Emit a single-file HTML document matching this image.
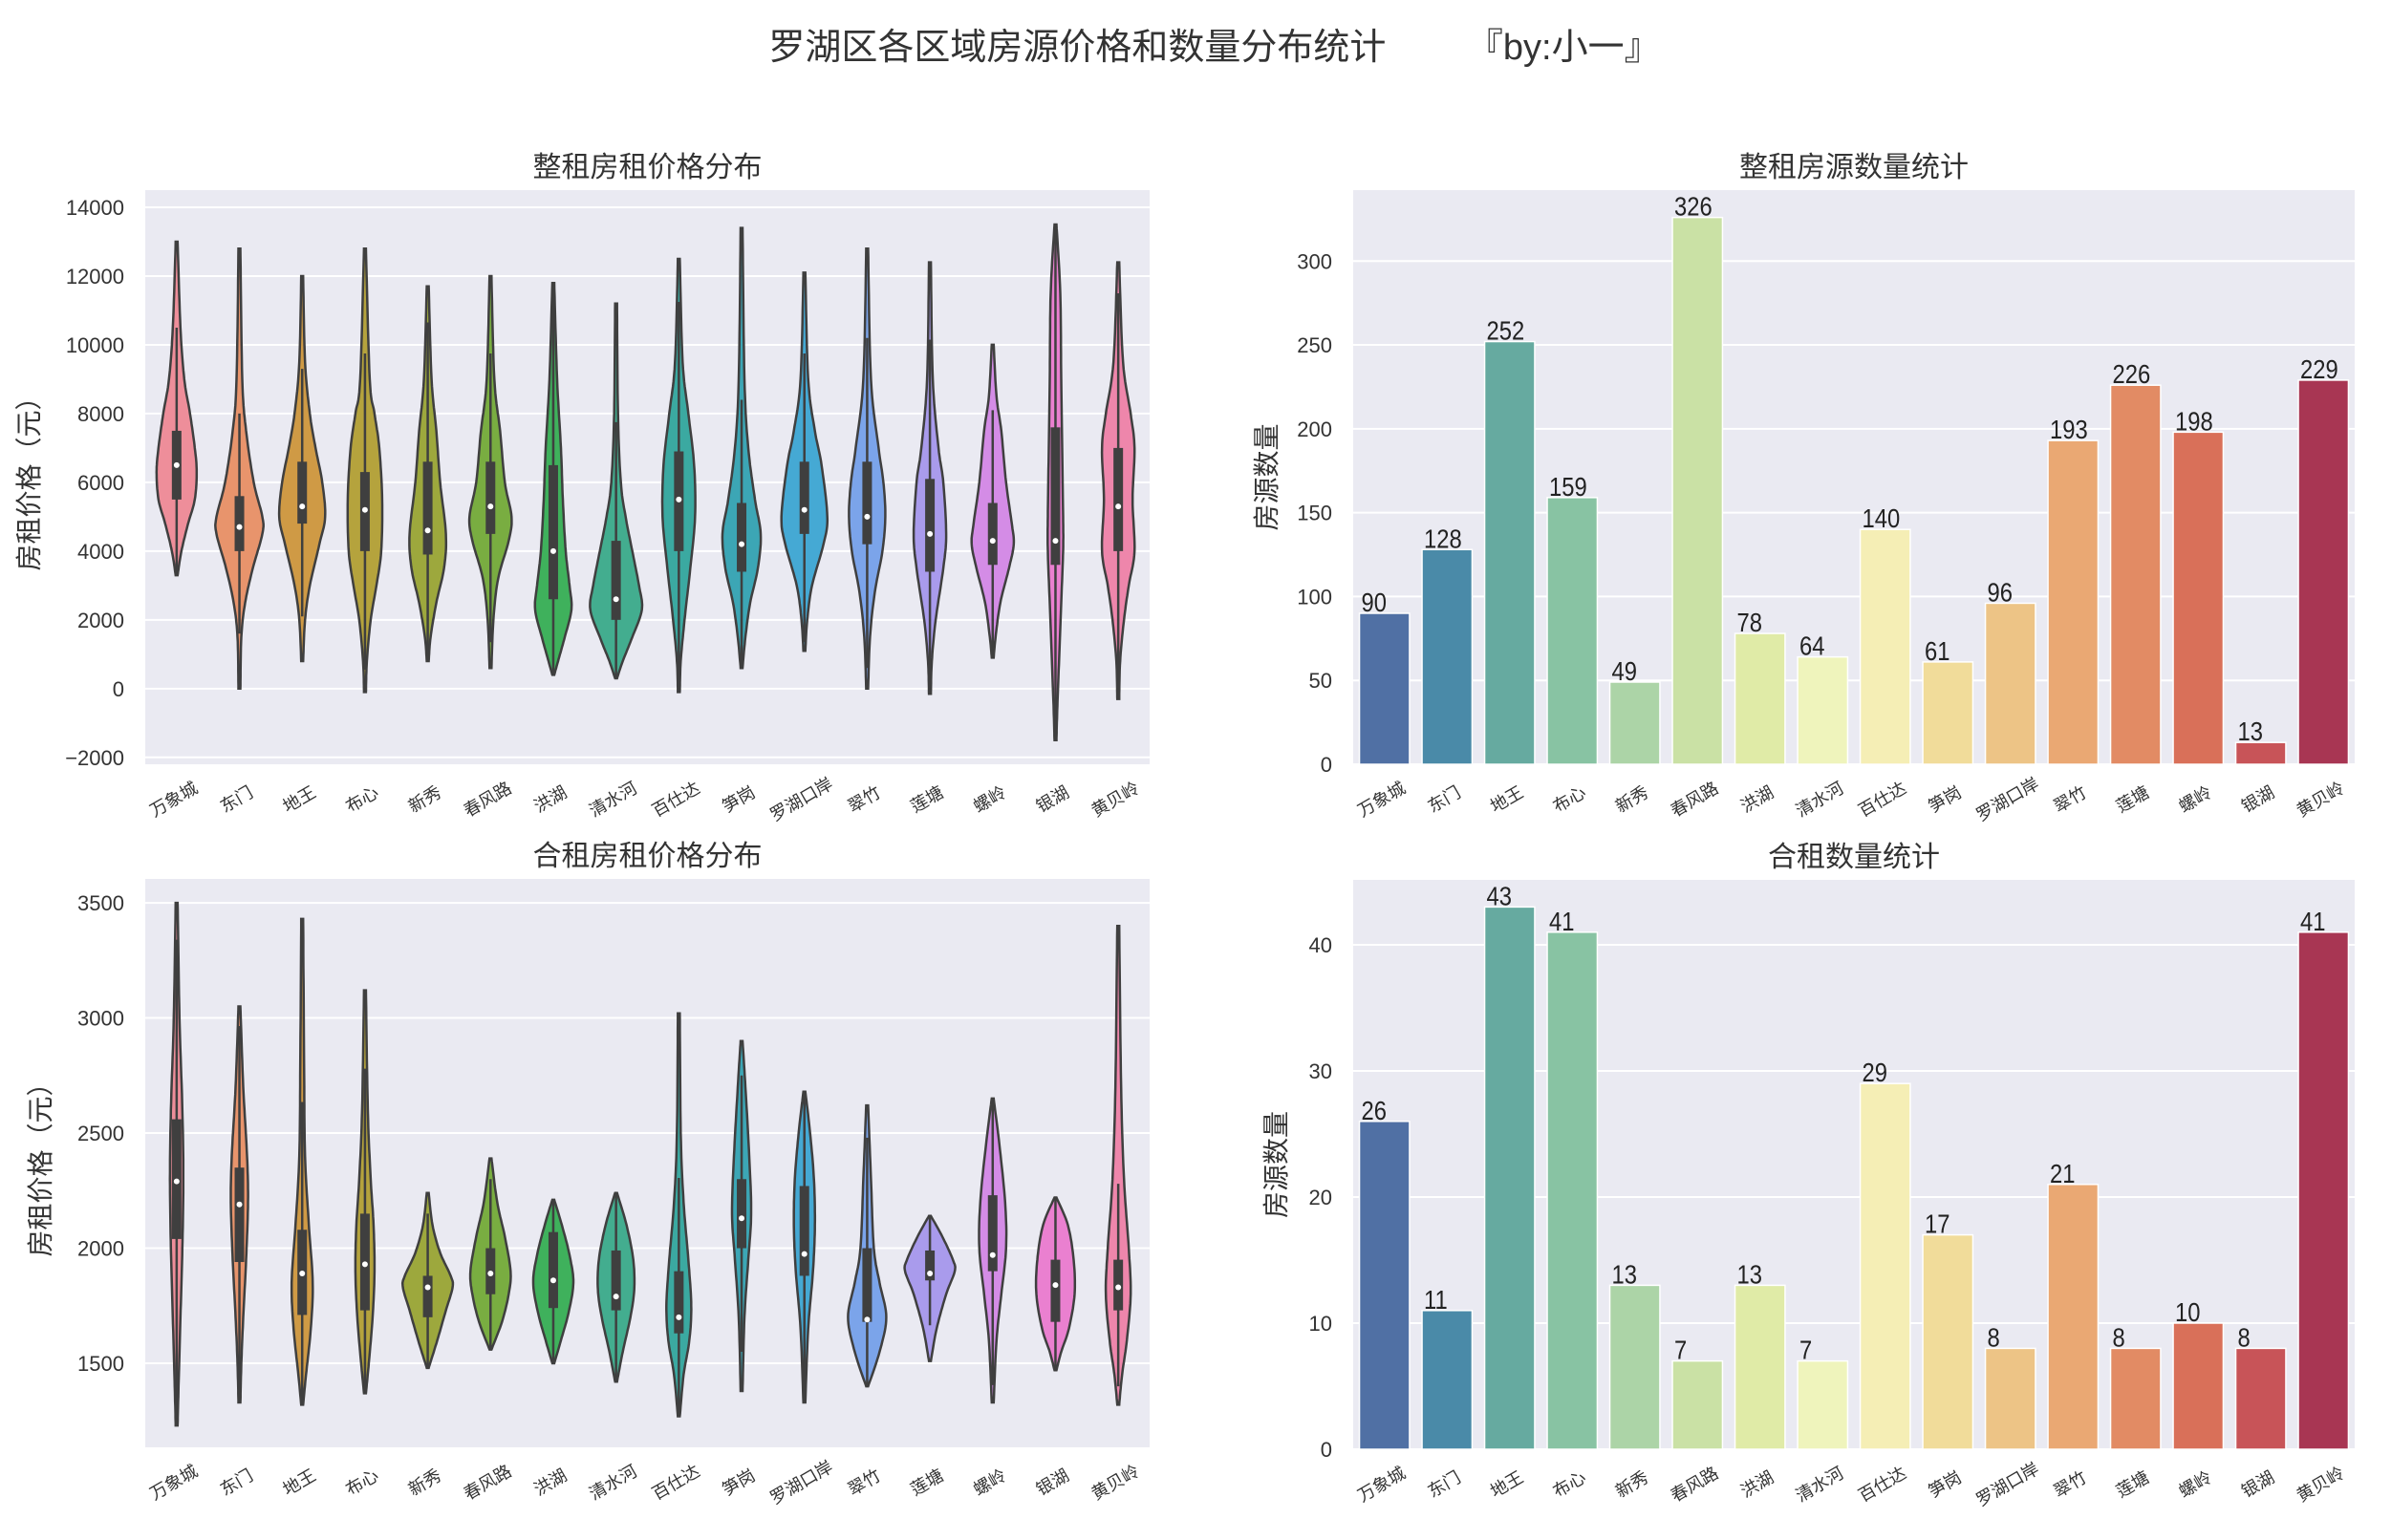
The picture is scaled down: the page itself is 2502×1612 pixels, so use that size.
<!DOCTYPE html>
<html><head><meta charset="utf-8"><style>
html,body{margin:0;padding:0;background:#fff;}
svg{display:block;font-family:"Liberation Sans","Noto Sans CJK SC","WenQuanYi Zen Hei",sans-serif;}
</style></head><body>
<svg id="s" width="2502" height="1612" viewBox="0 0 2502 1612" xmlns="http://www.w3.org/2000/svg">
<text x="1271" y="62" font-size="38" text-anchor="middle" fill="#333">罗湖区各区域房源价格和数量分布统计&#160;&#160;&#160;&#160;&#160;&#160;&#160;&#160;『by:小一』</text>
</svg>
<script>
const S=document.getElementById('s');const NS='http://www.w3.org/2000/svg';
function el(t,a,txt){const e=document.createElementNS(NS,t);for(const k in a)e.setAttribute(k,a[k]);if(txt!==undefined)e.textContent=txt;S.appendChild(e);return e;}
const cats=['万象城','东门','地王','布心','新秀','春风路','洪湖','清水河','百仕达','笋岗','罗湖口岸','翠竹','莲塘','螺岭','银湖','黄贝岭'];
function axes(L,R,T,B,vmin,vmax,ticks,title,ylabel,ylx){
  el('rect',{x:L,y:T,width:R-L,height:B-T,fill:'#eaeaf2'});
  const f=v=>B-(v-vmin)/(vmax-vmin)*(B-T);
  ticks.forEach(v=>{const y=f(v);el('line',{x1:L,x2:R,y1:y,y2:y,stroke:'#fff','stroke-width':2});
    el('text',{x:L-22,y:y+8,'font-size':22,'text-anchor':'end',fill:'#333'},String(v).replace('-','−'));});
  el('text',{x:(L+R)/2,y:T-14,'font-size':30,'text-anchor':'middle',fill:'#333'},title);
  el('text',{x:ylx,y:(T+B)/2,'font-size':28,'text-anchor':'middle',fill:'#333',transform:`rotate(-90 ${ylx} ${(T+B)/2})`},ylabel);
  const w=(R-L)/16;
  cats.forEach((c,i)=>{const x=L+w*(i+.5),y=B+42;
    el('text',{x:x,y:y,'font-size':18,'text-anchor':'middle',fill:'#333',transform:`rotate(-30 ${x} ${y})`},c);});
  return f;
}
const vcol=['#ee8e9a','#e8946c','#cf9a45','#b5a33d','#9da83d','#79ad41','#3fb15c','#43ad8f','#3ba9a1','#3ca6b5','#45a9d4','#7ba4ea','#a99bec','#d48ce6','#ea80d0','#ee86ab'];
function violin(f,cx,pts){
  const n=pts.length;const P=[];
  for(let i=0;i<n-1;i++){const p0=pts[Math.max(0,i-1)],p1=pts[i],p2=pts[i+1],p3=pts[Math.min(n-1,i+2)];
    for(let t=0;t<1;t+=0.1){const t2=t*t,t3=t2*t;
      const cr=(a,b,c,d)=>0.5*(2*b+(-a+c)*t+(2*a-5*b+4*c-d)*t2+(-a+3*b-3*c+d)*t3);
      P.push([cr(p0[0],p1[0],p2[0],p3[0]),Math.max(0.5,cr(p0[1],p1[1],p2[1],p3[1]))]);}}
  P.push(pts[n-1]);
  let d='M'+P.map(p=>(cx+p[1]).toFixed(1)+','+f(p[0]).toFixed(1)).join('L');
  d+='L'+P.slice().reverse().map(p=>(cx-p[1]).toFixed(1)+','+f(p[0]).toFixed(1)).join('L')+'Z';
  return d;
}
function drawViolins(f,L,R,data){
  const w=(R-L)/16;
  data.forEach((v,i)=>{const cx=L+w*(i+.5);const [pts,q1,q3,med]=v;
    el('path',{d:violin(f,cx,pts),fill:vcol[i],stroke:'#3f3f3f','stroke-width':2.5});
    const iq=q3-q1;const lo=Math.max(pts[pts.length-1][0],q1-1.5*iq),hi=Math.min(pts[0][0],q3+1.5*iq);
    el('line',{x1:cx,x2:cx,y1:f(lo),y2:f(hi),stroke:'#3f3f3f','stroke-width':2.5});
    el('rect',{x:cx-5,y:f(q3),width:10,height:f(q1)-f(q3),fill:'#3f3f3f'});
    el('circle',{cx:cx,cy:f(med),r:3,fill:'#fff'});
  });
}
let f1=axes(152,1203,199,800,-2200,14500,[-2000,0,2000,4000,6000,8000,10000,12000,14000],'整租房租价格分布','房租价格（元）',40);
drawViolins(f1,152,1203,[
[[[13000,1],[10500,4],[9000,8],[8000,14],[7000,19],[6300,21],[5500,19],[4800,12],[4000,5],[3300,1]],5500,7500,6500],
[[[12800,1],[9000,3],[7500,7],[6000,15],[5000,24],[4500,24],[3500,14],[2500,6],[1500,2],[0,1]],4000,5600,4700],
[[[12000,1],[9500,3],[8000,8],[7000,14],[6000,21],[5000,24],[4200,18],[3000,8],[2000,3],[800,1]],4800,6600,5300],
[[[12800,1],[9000,5],[8000,10],[7000,15],[5500,18],[4000,17],[3000,12],[2000,6],[800,2],[-100,1]],4000,6300,5200],
[[[11700,1],[9000,4],[7500,9],[6000,13],[4500,19],[3500,17],[2500,9],[1500,3],[800,1]],3900,6600,4600],
[[[12000,1],[9000,4],[7500,10],[6000,15],[5000,22],[4300,19],[3200,8],[2000,3],[600,1]],4500,6600,5300],
[[[11800,1],[9000,4],[7000,8],[5500,10],[4000,13],[3000,17],[2300,19],[1500,12],[800,5],[400,1]],2600,6500,4000],
[[[11200,1],[8000,2],[6000,5],[5000,10],[4000,17],[3000,24],[2300,27],[1500,17],[800,7],[300,1]],2000,4300,2600],
[[[12500,1],[9500,4],[8000,10],[6500,16],[5000,17],[3500,12],[2000,6],[800,2],[-100,1]],4000,6900,5500],
[[[13400,1],[9000,3],[7000,7],[5500,14],[4500,20],[3500,17],[2500,9],[1500,4],[600,1]],3400,5400,4200],
[[[12100,1],[9000,4],[7500,11],[6500,18],[5000,24],[4200,20],[3000,8],[2000,3],[1100,1]],4500,6600,5200],
[[[12800,1],[9000,4],[7000,12],[6000,17],[5000,19],[4000,16],[2800,8],[1500,3],[0,1]],4200,6600,5000],
[[[12400,1],[9000,3],[7000,9],[6000,14],[4500,17],[3500,14],[2000,6],[800,2],[-150,1]],3400,6100,4500],
[[[10000,1],[8500,4],[7500,9],[6000,14],[4800,20],[4200,22],[3500,17],[2500,8],[1500,3],[900,1]],3600,5400,4300],
[[[13500,1],[11500,5],[9000,6],[7000,7],[5000,8],[4000,8],[2500,6],[1000,4],[-500,2],[-1500,1]],3600,7600,4300],
[[[12400,1],[9500,5],[8000,13],[7000,17],[5500,15],[4000,17],[3000,11],[2000,6],[800,2],[-300,1]],4000,7000,5300]
]);
let f2=axes(152,1203,920,1515,1135,3604,[1500,2000,2500,3000,3500],'合租房租价格分布','房租价格（元）',52);
drawViolins(f2,152,1203,[
[[[3500,1],[3000,3],[2600,6],[2300,7],[2000,6],[1700,4],[1400,2],[1230,1]],2040,2560,2290],
[[[3050,1],[2700,4],[2400,8],[2200,9],[1950,7],[1700,4],[1500,2],[1330,1]],1940,2350,2190],
[[[3430,1],[2800,2],[2400,3],[2100,7],[1850,11],[1650,9],[1450,4],[1320,1]],1710,2080,1890],
[[[3120,1],[2600,3],[2300,6],[2100,9],[1900,10],[1700,8],[1500,4],[1370,1]],1730,2150,1930],
[[[2240,1],[2100,5],[1980,13],[1880,24],[1830,26],[1730,19],[1600,10],[1480,1]],1700,1880,1830],
[[[2390,1],[2200,7],[2050,15],[1900,21],[1800,19],[1680,12],[1560,1]],1800,2000,1890],
[[[2210,1],[2100,9],[1970,17],[1850,21],[1720,16],[1600,8],[1500,1]],1740,2070,1860],
[[[2240,1],[2100,11],[1950,18],[1820,19],[1700,15],[1550,7],[1420,1]],1730,1990,1790],
[[[3020,1],[2500,2],[2200,5],[1950,10],[1750,13],[1600,11],[1450,5],[1270,1]],1630,1900,1700],
[[[2900,1],[2700,4],[2400,8],[2150,10],[1950,7],[1700,3],[1380,1]],2000,2300,2130],
[[[2680,1],[2500,6],[2300,10],[2100,11],[1900,9],[1650,4],[1330,1]],1880,2270,1975],
[[[2620,1],[2300,4],[2000,7],[1850,13],[1700,20],[1550,13],[1400,1]],1680,2000,1690],
[[[2140,1],[2050,13],[1950,24],[1900,26],[1800,17],[1650,7],[1510,1]],1860,1990,1890],
[[[2650,1],[2450,7],[2200,13],[2000,14],[1800,9],[1600,4],[1330,1]],1900,2230,1970],
[[[2220,1],[2100,13],[1950,19],[1800,20],[1650,14],[1550,6],[1470,1]],1680,1950,1840],
[[[3400,1],[2700,3],[2300,6],[2000,11],[1800,13],[1600,9],[1450,4],[1320,1]],1730,1950,1830]
]);
const bcol=['#5070a4','#4a8aa8','#66aaa0','#88c3a3','#acd4a7','#cae1a5','#e0eba7','#eff4bc','#f5eeb5','#f1dc9a','#edc486','#eaa873','#e28b64','#d97059','#c85458','#a83653'];
function bars(L,R,T,B,vmax,ticks,vals,title,ylx){
  const f=axes(L,R,T,B,0,vmax,ticks,title,'房源数量',ylx);
  const w=(R-L)/16;
  vals.forEach((v,i)=>{const x=L+w*i+w*0.1,bw=w*0.8,y=f(v);
    el('rect',{x:x,y:y,width:bw,height:B-y,fill:bcol[i],stroke:'#fff','stroke-width':1.5});
    el('text',{x:x+2,y:y-2,'font-size':28,fill:'#222',transform:`translate(${x+2} ${y-2}) scale(0.85 1) translate(${-(x+2)} ${-(y-2)})`},v);});
}
bars(1416,2464,199,800,342.3,[0,50,100,150,200,250,300],[90,128,252,159,49,326,78,64,140,61,96,193,226,198,13,229],'整租房源数量统计',1335);
bars(1416,2464,921,1517,45.15,[0,10,20,30,40],[26,11,43,41,13,7,13,7,29,17,8,21,8,10,8,41],'合租数量统计',1345);
</script>
</body></html>
